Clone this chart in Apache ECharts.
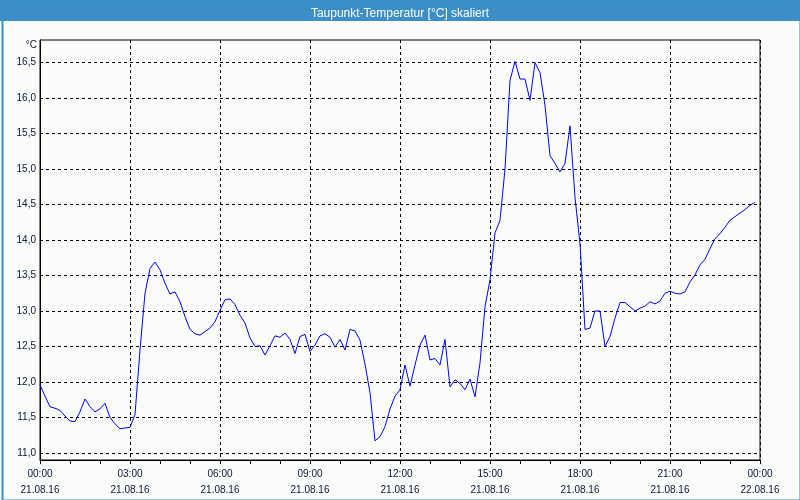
<!DOCTYPE html>
<html>
<head>
<meta charset="utf-8">
<script src="https://cdn.jsdelivr.net/npm/echarts@6/dist/echarts.min.js"></script>
<style>
html,body{margin:0;padding:0;background:#fbfdfb;}
#chart{width:800px;height:500px;}
</style>
</head>
<body>
<div id="chart"></div>
<script>
// Dew point values, one every 10 minutes from 21.08.16 00:00
const sampleStepMinutes = 10;
const dewPoint = [
  11.96, 11.80, 11.65, 11.63, 11.60, 11.52, 11.45, 11.44, 11.58, 11.76,
  11.65, 11.58, 11.62, 11.70, 11.50, 11.41, 11.34, 11.35, 11.36, 11.54,
  12.45, 13.25, 13.60, 13.69, 13.58, 13.39, 13.24, 13.27, 13.13, 12.92,
  12.74, 12.68, 12.66, 12.71, 12.76, 12.85, 13.01, 13.16, 13.17, 13.09,
  12.94, 12.83, 12.62, 12.50, 12.51, 12.38, 12.51, 12.65, 12.63, 12.69,
  12.60, 12.40, 12.64, 12.67, 12.43, 12.52, 12.65, 12.68, 12.63, 12.49,
  12.60, 12.45, 12.74, 12.72, 12.59, 12.25, 11.85, 11.17, 11.23, 11.37,
  11.62, 11.80, 11.89, 12.24, 11.94, 12.24, 12.52, 12.66, 12.31, 12.33,
  12.24, 12.60, 11.93, 12.03, 11.98, 11.89, 12.04, 11.79, 12.27, 13.06,
  13.44, 14.10, 14.28, 15.00, 16.25, 16.52, 16.27, 16.27, 15.97, 16.50,
  16.36, 15.90, 15.19, 15.08, 14.96, 15.08, 15.61, 14.60, 13.95, 12.74,
  12.76, 13.00, 13.00, 12.50, 12.64, 12.90, 13.12, 13.12, 13.06, 13.00,
  13.04, 13.07, 13.13, 13.10, 13.14, 13.25, 13.28, 13.25, 13.24, 13.27,
  13.41, 13.51, 13.65, 13.73, 13.88, 14.02, 14.09, 14.18, 14.28, 14.33,
  14.38, 14.43, 14.49, 14.53
];
const timeLabels = ['00:00','03:00','06:00','09:00','12:00','15:00','18:00','21:00','00:00'];
const dateLabels = ['21.08.16','21.08.16','21.08.16','21.08.16','21.08.16','21.08.16','21.08.16','21.08.16','22.08.16'];
const yTicks = [11.0, 11.5, 12.0, 12.5, 13.0, 13.5, 14.0, 14.5, 15.0, 15.5, 16.0, 16.5];
const titleText = 'Taupunkt-Temperatur [°C] skaliert';
const unitText = '°C';

const seriesData = dewPoint.map((v, i) => [i * sampleStepMinutes, v]);
const FONT = 'Liberation Sans';
const TXT = '#10103a';
const dash = {color: '#000', type: [3, 3], width: 1};

const chart = echarts.init(document.getElementById('chart'), null, {renderer: 'canvas'});
chart.setOption({
  backgroundColor: '#fbfdfb',
  animation: false,
  title: {
    text: titleText, left: 'center', top: 3, z: 10,
    textStyle: {color: '#ffffff', fontSize: 12, fontWeight: 'normal', fontFamily: FONT}
  },
  graphic: [
    {type: 'rect', left: 0, top: 0, z: 1, shape: {width: 800, height: 21}, style: {fill: '#3b8ec6'}},
    {type: 'rect', left: 0, top: 0, z: 1, shape: {x: 1, y: 1, width: 798, height: 498}, style: {fill: 'none', stroke: '#3b8ec6', lineWidth: 2}}
  ],
  grid: {left: 40, right: 40, top: 40, bottom: 40, show: true, borderColor: '#000', borderWidth: 1, backgroundColor: 'transparent'},
  xAxis: {
    type: 'value', min: 0, max: 1440, interval: 180,
    axisLine: {show: true, lineStyle: {color: '#000', width: 1}},
    axisTick: {show: true, length: 4, lineStyle: {color: '#000'}},
    minorTick: {show: true, splitNumber: 3, length: 4, lineStyle: {color: '#000'}},
    splitLine: {show: true, lineStyle: dash},
    axisLabel: {
      color: TXT, fontSize: 10, fontFamily: FONT, lineHeight: 16, margin: 6,
      showMinLabel: true, showMaxLabel: true, hideOverlap: false,
      formatter: function (val) {
        const i = Math.round(val / 180);
        return timeLabels[i] + '\n' + dateLabels[i];
      }
    }
  },
  yAxis: {
    type: 'value', min: 10.9, max: 16.82,
    name: unitText, nameLocation: 'end', nameGap: -5,
    nameTextStyle: {color: TXT, fontSize: 10, fontFamily: FONT, align: 'right', verticalAlign: 'middle', padding: [0, 3, 0, 0]},
    axisLine: {show: true, lineStyle: {color: '#000', width: 1}},
    axisTick: {show: false, customValues: yTicks},
    splitLine: {show: true, lineStyle: dash},
    axisLabel: {
      customValues: yTicks, color: TXT, fontSize: 10, fontFamily: FONT, margin: 4,
      formatter: function (v) { return v.toFixed(1).replace('.', ','); }
    }
  },
  series: [{
    type: 'line', data: seriesData, showSymbol: false, symbol: 'none',
    lineStyle: {color: '#0000ff', width: 1}, z: 5
  }]
});
</script>
</body>
</html>
